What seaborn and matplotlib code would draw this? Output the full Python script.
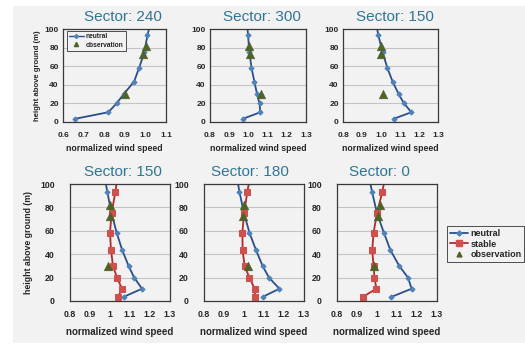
import matplotlib
matplotlib.use("Agg")
import matplotlib.pyplot as plt
import seaborn as sns
from matplotlib.patches import Rectangle
from matplotlib.lines import Line2D

sns.set_style("white")
plt.rcParams["font.family"] = ["Liberation Sans", "DejaVu Sans"]

# ---------------- data ----------------
heights = [3.5, 10.5, 20, 30, 43.5, 58.5, 75, 93.5, 115]
obs_heights = [30, 73, 82]

neutral_240 = [0.66, 0.82, 0.86, 0.895, 0.945, 0.97, 0.995, 1.01, 1.035]
obs_240 = [0.90, 0.99, 1.005]

neutral_300 = [0.972, 1.062, 1.058, 1.045, 1.031, 1.016, 1.005, 0.998, 0.99]
obs_300 = [1.065, 1.01, 1.003]

neutral_150 = [1.068, 1.16, 1.121, 1.093, 1.061, 1.033, 1.008, 0.986, 0.965]
obs_150_top = [1.01, 1.0, 1.0]

stable_150 = [1.04, 1.06, 1.035, 1.015, 1.005, 1.0, 1.008, 1.027, 1.045]
obs_150 = [0.99, 1.0, 1.0]

neutral_180 = [1.093, 1.177, 1.125, 1.093, 1.06, 1.027, 1.0, 0.977, 0.955]
stable_180 = [1.055, 1.053, 1.027, 1.003, 0.993, 0.992, 1.0, 1.017, 1.04]
obs_180 = [1.02, 0.997, 1.0]

neutral_0 = [1.072, 1.173, 1.155, 1.111, 1.067, 1.034, 1.0, 0.975, 0.95]
stable_0 = [0.929, 0.997, 0.987, 0.983, 0.976, 0.983, 1.0, 1.027, 1.05]
obs_0 = [0.983, 1.007, 1.017]

top_titles = ["Sector: 240", "Sector: 300", "Sector: 150"]
bottom_titles = ["Sector: 150", "Sector: 180", "Sector: 0"]
top_xticks = [[0.6, 0.7, 0.8, 0.9, 1.0, 1.1], [0.8, 0.9, 1.0, 1.1, 1.2, 1.3], [0.8, 0.9, 1.0, 1.1, 1.2, 1.3]]
top_xticklabels = [["0.6", "0.7", "0.8", "0.9", "1.0", "1.1"],
                   ["0.8", "0.9", "1.0", "1.1", "1.2", "1.3"],
                   ["0.8", "0.9", "1.0", "1.1", "1.2", "1.3"]]
bottom_xticks = [0.8, 0.9, 1.0, 1.1, 1.2, 1.3]
bottom_xticklabels = ["0.8", "0.9", "1", "1.1", "1.2", "1.3"]
yticks = [0, 20, 40, 60, 80, 100]

# ---------------- style ----------------
W, H = 525, 344
BG = "#f2f2f2"
C_NEU_LINE, C_NEU_MK = "#2b4f8c", "#4f81bd"
C_STA_LINE, C_STA_MK = "#b8282a", "#d0504d"
C_OBS = "#4f6228"
C_TITLE = "#2f7597"

fig = plt.figure(figsize=(W / 100, H / 100), dpi=100)
fig.patch.set_facecolor("white")
fig.add_artist(Rectangle((13 / W, 1 - 343 / H), (W - 13) / W, (343 - 6) / H,
                         transform=fig.transFigure, facecolor=BG, edgecolor="none", zorder=-10))


def add_ax(l, r, t, b):
    return fig.add_axes([l / W, 1 - b / H, (r - l) / W, (b - t) / H])


def style_ax(ax, xlim, xt, xtl, tick_fs, lab_fs, ylab, ylab_x, ytick_len, ypad, xpad, xlabpad):
    ax.set_facecolor(BG)
    ax.set_xlim(*xlim)
    ax.set_ylim(0, 100)
    ax.set_xticks(xt)
    ax.set_xticklabels(xtl, fontsize=tick_fs, fontweight="bold")
    ax.set_yticks(yticks)
    ax.set_yticklabels([str(v) for v in yticks], fontsize=tick_fs, fontweight="bold")
    ax.tick_params(axis="x", length=0, pad=xpad)
    ax.tick_params(axis="y", length=ytick_len, width=0.6, pad=ypad, color="#777777", direction="out")
    ax.yaxis.grid(True, color="#c4c4c4", lw=0.8)
    ax.xaxis.grid(False)
    ax.set_axisbelow(True)
    for s in ax.spines.values():
        s.set_color("#3a3a3a")
        s.set_linewidth(0.9)
    ax.set_xlabel("normalized wind speed", fontsize=lab_fs, fontweight="bold", labelpad=xlabpad)
    if ylab:
        ax.set_ylabel("height above ground (m)", fontsize=lab_fs - 0.7, fontweight="bold")
        ax.yaxis.set_label_coords(ylab_x, 0.5)
    else:
        ax.set_ylabel("")


def draw_line(ax, xs, color, mcolor, marker, ms):
    sns.lineplot(x=xs, y=heights, sort=False, estimator=None, ax=ax, color=color, lw=1.3,
                 marker=marker, markersize=ms, markerfacecolor=mcolor, markeredgecolor=mcolor,
                 clip_on=True)


def draw_obs(ax, xs):
    sns.scatterplot(x=xs, y=obs_heights, ax=ax, marker="^", s=40, color=C_OBS,
                    edgecolor=C_OBS, linewidth=0.3, zorder=5)


# top row
top_boxes = [(63, 166, 29, 122), (210, 306, 29, 122), (343, 438, 29, 122)]
top_neutral = [neutral_240, neutral_300, neutral_150]
top_obs = [obs_240, obs_300, obs_150_top]
top_titles_x = [123, 262, 395]
for i in range(3):
    ax = add_ax(*top_boxes[i])
    draw_line(ax, top_neutral[i], C_NEU_LINE, C_NEU_MK, "D", 2.6)
    draw_obs(ax, top_obs[i])
    style_ax(ax, (top_xticks[i][0], top_xticks[i][-1]), top_xticks[i], top_xticklabels[i],
             6.0, 6.3, i == 0, -0.21, 0, 3, 7, 4)
    fig.text(top_titles_x[i] / W, 1 - 17 / H, top_titles[i], fontsize=11, color=C_TITLE,
             ha="center", va="center")
    if i == 0:
        handles = [Line2D([], [], color=C_NEU_LINE, lw=1.0, marker="D", markersize=2,
                          markerfacecolor=C_NEU_MK, markeredgecolor=C_NEU_MK),
                   Line2D([], [], color=C_OBS, lw=0, marker="^", markersize=3)]
        leg = ax.legend(handles, ["neutral", "observation"], loc="upper left",
                        bbox_to_anchor=(0.04, 0.98), fontsize=4.8, frameon=True, fancybox=False,
                        edgecolor="#333333", framealpha=1, facecolor=BG, borderpad=0.3,
                        handlelength=2.2, handletextpad=0.3, labelspacing=0.25, borderaxespad=0)
        leg.get_frame().set_linewidth(0.6)
        for t in leg.get_texts():
            t.set_fontweight("bold")

# bottom row
bot_boxes = [(70, 170, 184, 301), (204, 304, 184, 301), (337, 437, 184, 301)]
bot_neutral = [neutral_150, neutral_180, neutral_0]
bot_stable = [stable_150, stable_180, stable_0]
bot_obs = [obs_150, obs_180, obs_0]
bot_titles_x = [123, 250, 379]
for i in range(3):
    ax = add_ax(*bot_boxes[i])
    draw_line(ax, bot_neutral[i], C_NEU_LINE, C_NEU_MK, "D", 2.6)
    draw_line(ax, bot_stable[i], C_STA_LINE, C_STA_MK, "s", 4.2)
    draw_obs(ax, bot_obs[i])
    style_ax(ax, (0.8, 1.3), bottom_xticks, bottom_xticklabels,
             6.3, 7.0, i == 0, -0.37, 3, 8, 6.5, 6)
    fig.text(bot_titles_x[i] / W, 1 - 172 / H, bottom_titles[i], fontsize=11, color=C_TITLE,
             ha="center", va="center")

handles = [Line2D([], [], color=C_NEU_LINE, lw=1.3, marker="D", markersize=2.6,
                  markerfacecolor=C_NEU_MK, markeredgecolor=C_NEU_MK),
           Line2D([], [], color=C_STA_LINE, lw=1.3, marker="s", markersize=4,
                  markerfacecolor=C_STA_MK, markeredgecolor=C_STA_MK),
           Line2D([], [], color=C_OBS, lw=0, marker="^", markersize=3.5)]
leg = fig.legend(handles, ["neutral", "stable", "observation"], loc="upper left",
                 bbox_to_anchor=(447 / W, 1 - 226 / H), fontsize=6.5, frameon=True, fancybox=False,
                 edgecolor="#333333", framealpha=1, facecolor=BG, borderpad=0.3,
                 handlelength=2.0, handletextpad=0.3, labelspacing=0.2, borderaxespad=0)
leg.get_frame().set_linewidth(0.6)
for t in leg.get_texts():
    t.set_fontweight("bold")

fig.savefig("out.png", dpi=100, facecolor=fig.get_facecolor())
